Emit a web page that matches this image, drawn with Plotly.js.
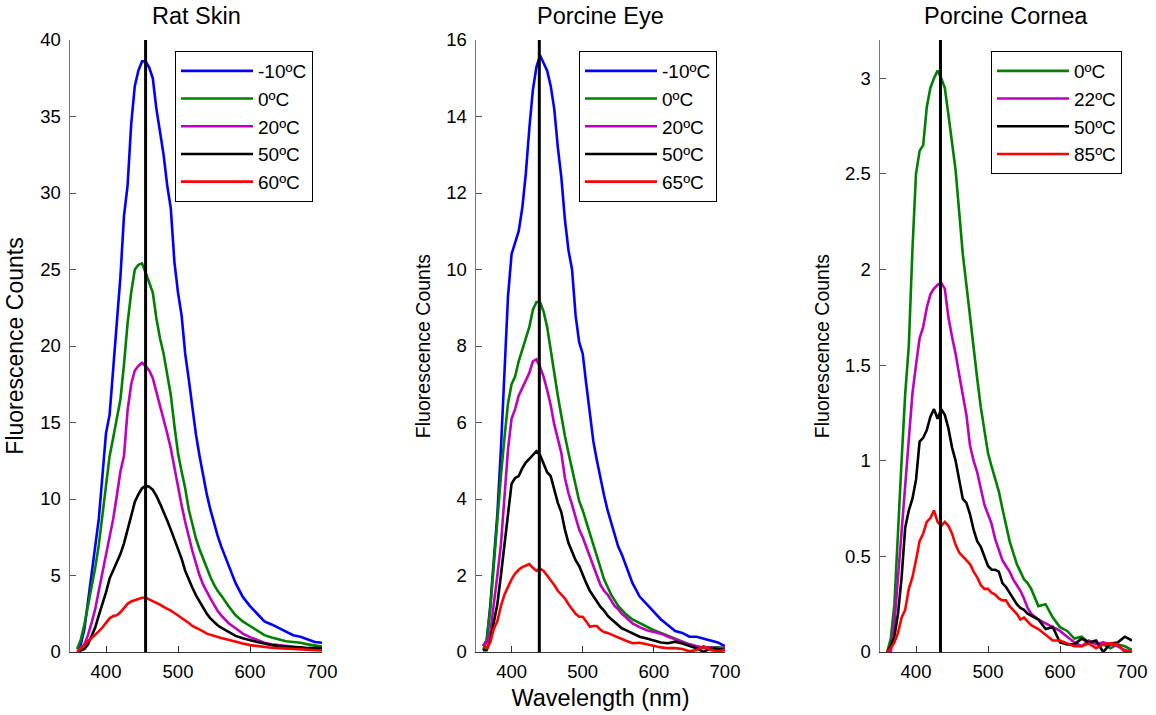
<!DOCTYPE html>
<html><head><meta charset="utf-8">
<script src="https://cdn.plot.ly/plotly-3.0.1.min.js"></script>
<style>html,body{margin:0;padding:0;background:#fff}#chart{width:1156px;height:715px}</style>
</head><body><div id="chart"></div>
<script>
// Wavelength grid (nm), shared by all spectra
const wavelength = [360,365,370,375,380,385,390,395,400,405,410,415,420,425,430,435,440,445,450,455,460,465,470,475,480,485,490,495,500,505,510,515,520,525,530,535,540,545,550,555,560,
  570,580,590,600,610,620,630,640,650,660,670,680,690,700];

// Panel titles
const panelTitles = ['Rat Skin', 'Porcine Eye', 'Porcine Cornea'];
// Peak marker wavelengths (vertical lines)
const peakWavelength = [455, 439, 434];

// ---- Rat Skin ----
const ratSkinLabels = ['-10ºC', '0ºC', '20ºC', '50ºC', '60ºC'];
const ratSkinM10 = [0.2,0.5,1.5,3.3,5.0,7.0,8.7,11.5,14.3,15.5,18.5,21.5,24.5,28.5,30.5,34.5,37.0,38.0,38.6,38.6,38.2,37.5,35.5,34.0,32.5,30.5,29.0,25.5,23.5,22.0,19.5,17.8,16.0,14.2,12.8,11.5,10.3,9.3,8.4,7.6,6.9,
  5.7,4.5,3.6,3.0,2.5,2.0,1.8,1.55,1.3,1.1,1.0,0.8,0.65,0.6];
const ratSkin0 = [0.2,0.8,1.8,3.0,4.2,5.5,7.0,9.0,11.2,12.8,14.0,15.2,16.5,18.8,21.5,23.5,25.0,25.3,25.4,24.8,24.2,23.5,21.8,20.5,19.5,18.0,16.8,14.8,13.0,11.8,10.7,9.3,8.3,7.4,6.7,6.1,5.4,4.9,4.4,4.0,3.7,
  3.0,2.4,2.0,1.7,1.4,1.1,0.95,0.8,0.7,0.65,0.6,0.5,0.4,0.35];
const ratSkin20 = [0.05,0.2,0.5,1.1,1.9,2.8,4.0,5.2,6.5,7.6,8.7,10.2,11.8,12.8,15.8,17.5,18.4,18.7,18.9,18.7,18.4,17.9,17.0,16.2,15.3,14.3,13.3,12.0,10.8,9.6,8.5,7.5,6.6,5.8,5.0,4.4,3.9,3.5,3.1,2.7,2.4,
  1.9,1.55,1.2,0.97,0.8,0.6,0.5,0.45,0.4,0.35,0.3,0.25,0.2,0.2];
const ratSkin50 = [0.0,0.1,0.2,0.5,1.0,1.6,2.4,3.1,3.9,4.8,5.3,5.8,6.4,7.1,8.0,9.0,9.8,10.3,10.7,10.85,10.8,10.6,10.2,9.7,9.2,8.6,8.0,7.4,6.8,6.1,5.3,4.7,4.2,3.7,3.3,2.9,2.5,2.2,1.95,1.75,1.6,
  1.3,1.05,0.9,0.75,0.65,0.55,0.45,0.4,0.35,0.3,0.3,0.25,0.25,0.25];
const ratSkin60 = [0.0,0.2,0.45,0.7,0.9,1.1,1.35,1.6,1.9,2.2,2.35,2.4,2.6,2.9,3.15,3.3,3.4,3.5,3.55,3.55,3.45,3.35,3.2,3.1,2.95,2.85,2.7,2.55,2.4,2.25,2.05,1.9,1.7,1.6,1.45,1.35,1.2,1.12,1.05,0.98,0.92,
  0.8,0.65,0.55,0.45,0.38,0.32,0.28,0.25,0.22,0.2,0.2,0.15,0.12,0.1];

// ---- Porcine Eye ----
const eyeLabels = ['-10ºC', '0ºC', '20ºC', '50ºC', '65ºC'];
const eyeM10 = [0.15,0.3,1.2,2.3,3.6,5.3,7.3,9.3,10.4,10.7,11.0,11.6,12.5,13.7,14.7,15.3,15.6,15.4,15.2,14.8,14.2,13.2,12.4,11.3,10.5,10.0,8.8,8.1,7.8,7.0,6.2,5.5,5.0,4.5,4.1,3.7,3.4,3.1,2.75,2.55,2.3,
  1.8,1.45,1.25,1.05,0.85,0.7,0.55,0.5,0.4,0.4,0.35,0.28,0.25,0.15];
const eye0 = [0.05,0.3,1.1,2.3,3.5,4.6,5.6,6.5,7.0,7.2,7.6,7.9,8.2,8.5,8.95,9.15,9.15,8.9,8.5,7.95,7.3,6.7,6.15,5.65,5.2,4.8,4.4,3.95,3.7,3.4,3.05,2.75,2.45,2.2,1.9,1.7,1.5,1.35,1.2,1.1,1.0,
  0.85,0.75,0.65,0.57,0.5,0.42,0.35,0.28,0.2,0.15,0.1,0.12,0.12,0.1];
const eye20 = [0.15,0.25,0.5,1.2,2.0,2.8,4.0,5.3,6.1,6.35,6.7,6.9,7.1,7.3,7.6,7.65,7.45,7.2,6.85,6.45,5.95,5.6,5.2,4.55,4.15,3.85,3.5,3.2,3.0,2.75,2.45,2.2,1.95,1.75,1.6,1.5,1.35,1.2,1.12,1.0,0.92,
  0.75,0.65,0.57,0.52,0.48,0.4,0.33,0.26,0.2,0.15,0.12,0.12,0.1,0.1];
const eye50 = [0.05,0.05,0.3,0.8,1.25,2.0,2.8,3.5,4.4,4.55,4.6,4.8,4.95,5.05,5.15,5.25,5.15,4.9,4.7,4.6,4.25,3.9,3.65,3.2,2.85,2.6,2.4,2.25,2.0,1.8,1.6,1.45,1.3,1.18,1.08,0.95,0.86,0.78,0.7,0.62,0.58,
  0.48,0.4,0.35,0.3,0.25,0.23,0.27,0.22,0.15,0.1,0.0,0.1,0.08,0.05];
const eye65 = [0.2,0.1,0.25,0.6,0.8,1.2,1.5,1.7,1.9,2.05,2.15,2.22,2.27,2.3,2.2,2.12,2.18,2.12,2.0,1.88,1.75,1.6,1.5,1.4,1.25,1.12,1.0,0.92,0.92,0.8,0.66,0.68,0.68,0.58,0.52,0.5,0.46,0.4,0.36,0.33,0.3,
  0.23,0.24,0.2,0.15,0.12,0.1,0.1,0.08,0.02,0.05,0.15,0.05,0.02,0.05];

// ---- Porcine Cornea ----
const corneaLabels = ['0ºC', '22ºC', '50ºC', '85ºC'];
const cornea0 = [0.0,0.07,0.25,0.65,1.0,1.35,1.6,2.1,2.5,2.62,2.65,2.85,2.95,3.0,3.04,3.0,2.95,2.81,2.66,2.52,2.3,2.08,1.92,1.75,1.58,1.43,1.28,1.15,1.04,0.97,0.9,0.84,0.75,0.66,0.58,0.52,0.46,0.42,0.38,0.36,0.33,
  0.24,0.25,0.18,0.13,0.11,0.07,0.08,0.05,0.05,0.04,0.02,0.04,0.03,0.01];
const cornea22 = [0.0,0.0,0.15,0.4,0.65,0.9,1.15,1.35,1.5,1.64,1.7,1.8,1.87,1.9,1.92,1.93,1.9,1.75,1.65,1.56,1.45,1.35,1.24,1.08,1.0,0.94,0.86,0.77,0.72,0.67,0.59,0.53,0.48,0.45,0.42,0.38,0.35,0.32,0.28,0.23,0.2,
  0.17,0.15,0.13,0.11,0.08,0.05,0.03,0.06,0.04,0.05,0.04,0.03,0.01,0.0];
const cornea50 = [0.0,0.03,0.08,0.2,0.39,0.65,0.74,0.8,0.9,1.1,1.12,1.16,1.23,1.27,1.22,1.27,1.24,1.17,1.07,1.0,0.9,0.8,0.78,0.72,0.64,0.58,0.55,0.5,0.45,0.43,0.43,0.42,0.36,0.34,0.31,0.28,0.25,0.23,0.22,0.2,0.19,
  0.17,0.12,0.13,0.05,0.04,0.04,0.07,0.05,0.06,0.0,0.045,0.05,0.08,0.06];
const cornea85 = [0.0,0.02,0.05,0.1,0.18,0.22,0.33,0.39,0.48,0.58,0.62,0.68,0.7,0.74,0.68,0.66,0.68,0.66,0.62,0.56,0.52,0.5,0.48,0.46,0.42,0.39,0.35,0.33,0.33,0.31,0.3,0.28,0.27,0.27,0.24,0.22,0.2,0.17,0.18,0.16,0.14,
  0.12,0.09,0.06,0.06,0.045,0.03,0.03,0.045,0.02,0.04,0.045,0.04,0.0,0.01];

const colors5 = ['#0000FF', '#008000', '#BF00BF', '#000000', '#FF0000'];
const colors4 = ['#008000', '#BF00BF', '#000000', '#FF0000'];

const panels = [
  {labels: ratSkinLabels, series: [ratSkinM10, ratSkin0, ratSkin20, ratSkin50, ratSkin60], colors: colors5, top: 40, dtick: 5},
  {labels: eyeLabels, series: [eyeM10, eye0, eye20, eye50, eye65], colors: colors5, top: 16, dtick: 2},
  {labels: corneaLabels, series: [cornea0, cornea22, cornea50, cornea85], colors: colors4, top: 3.2, dtick: 0.5}
];

const traces = [];
panels.forEach((p, i) => {
  const ax = i === 0 ? '' : String(i + 1);
  p.series.forEach((ys, k) => {
    traces.push({
      type: 'scatter', mode: 'lines', x: wavelength, y: ys, name: p.labels[k],
      xaxis: 'x' + ax, yaxis: 'y' + ax,
      legend: 'legend' + ax,
      line: {color: p.colors[k], width: 2.6}
    });
  });
  traces.push({
    type: 'scatter', mode: 'lines', x: [peakWavelength[i], peakWavelength[i]], y: [0, p.top],
    xaxis: 'x' + ax, yaxis: 'y' + ax, showlegend: false, hoverinfo: 'skip',
    line: {color: '#000', width: 3}
  });
});

const W = 1156, H = 715;
const FONT = 'Liberation Sans, Arial, sans-serif';
const xdom = [[70, 322], [476, 725], [880, 1132]];
const ydom = [1 - 652 / H, 1 - 40 / H];
const legendLeft = [175, 579, 991];
const ytitleSize = [23, 19.5, 19.5];

const layout = {
  width: W, height: H,
  margin: {l: 0, r: 0, t: 0, b: 0},
  paper_bgcolor: '#fff', plot_bgcolor: '#fff',
  font: {family: FONT, color: '#000', size: 18.5},
  showlegend: true,
  annotations: [],
  hovermode: false
};

panels.forEach((p, i) => {
  const ax = i === 0 ? '' : String(i + 1);
  layout['xaxis' + ax] = {
    domain: [xdom[i][0] / W, xdom[i][1] / W], anchor: 'y' + ax,
    range: [350, 700], tickvals: [400, 500, 600, 700],
    ticks: 'inside', ticklen: 6, tickcolor: '#333', showline: true, linecolor: '#333', linewidth: 1,
    showgrid: false, zeroline: false, tickfont: {size: 18.5, family: FONT, color: '#000'},
    ticklabelstandoff: 3,
    title: i === 1 ? {text: 'Wavelength (nm)', font: {size: 23.5, family: FONT, color: '#000'}, standoff: 8} : {text: ''}
  };
  layout['yaxis' + ax] = {
    domain: ydom, anchor: 'x' + ax,
    range: [0, p.top], dtick: p.dtick, tick0: 0,
    ticks: 'inside', ticklen: 6, tickcolor: '#555', showline: true, linecolor: '#777', linewidth: 1.5,
    showgrid: false, zeroline: false, tickfont: {size: 18.5, family: FONT, color: '#000'},
    ticklabelstandoff: 4,
    title: {text: 'Fluorescence Counts', font: {size: ytitleSize[i], family: FONT, color: '#000'}, standoff: 10}
  };
  layout['legend' + ax] = {
    x: legendLeft[i] / W, y: 1 - 51 / H, xanchor: 'left', yanchor: 'top',
    bgcolor: '#fff', bordercolor: '#000', borderwidth: 1,
    font: {size: 19, family: FONT, color: '#000'},
    itemwidth: 72
  };
  layout.annotations.push({
    text: panelTitles[i], xref: 'paper', yref: 'paper',
    x: (xdom[i][0] + xdom[i][1]) / 2 / W, y: 1 - 16 / H, xanchor: 'center', yanchor: 'middle',
    showarrow: false, font: {size: 23.5, family: FONT, color: '#000'}
  });
});

Plotly.newPlot('chart', traces, layout, {displayModeBar: false, staticPlot: true});
</script></body></html>
